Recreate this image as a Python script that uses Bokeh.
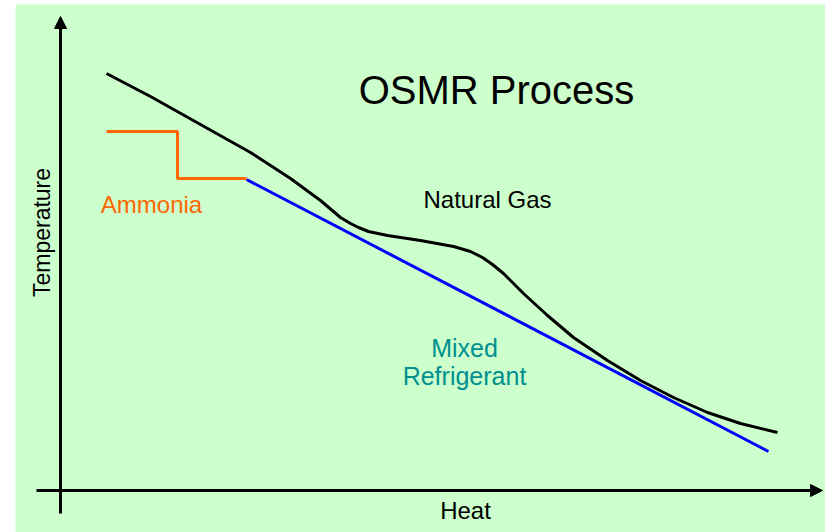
import math
from bokeh.plotting import figure
from bokeh.models import Range1d, Label, Arrow, NormalHead
from bokeh.embed import file_html
from bokeh.resources import INLINE

# Heat (x) and Temperature (y) in arbitrary units, origin at the axes crossing
gas_heat = [46, 90, 140, 190, 230, 260, 280, 290, 298, 308, 327, 360, 393, 410,
            422, 432, 443, 463, 487, 513, 547, 580, 613, 647, 680, 717]
gas_temp = [417, 394, 366, 338, 312, 290, 273, 267, 263, 259, 255, 250, 244, 239,
            233, 226, 217, 197, 175, 153, 130, 110, 93, 78, 67, 58]

mr_heat = [186, 708]
mr_temp = [311, 39]

nh3_heat = [46, 117, 117, 186]
nh3_temp = [359, 359, 312, 312]

FONT = "Liberation Sans"
BG = "#ccffcc"

p = figure(width=825, height=532, output_backend="svg", toolbar_location=None,
           x_range=Range1d(-45, 765), y_range=Range1d(-42, 486),
           min_border_left=15, min_border_right=0, min_border_top=4, min_border_bottom=0)
p.background_fill_color = BG
p.border_fill_color = "white"
p.outline_line_color = None
p.xaxis.visible = False
p.yaxis.visible = False
p.xgrid.visible = False
p.ygrid.visible = False

# axes drawn as arrows
p.add_layout(Arrow(end=NormalHead(size=12, fill_color="black", line_color="black"),
                   x_start=0, y_start=-23, x_end=0, y_end=474,
                   line_width=3, line_color="black"))
p.add_layout(Arrow(end=NormalHead(size=12, fill_color="black", line_color="black"),
                   x_start=-24, y_start=0, x_end=762, y_end=0,
                   line_width=3, line_color="black"))

p.line(gas_heat, gas_temp, line_color="black", line_width=3, line_join="round")
p.line(mr_heat, mr_temp, line_color="#0000ff", line_width=3)
p.line(nh3_heat, nh3_temp, line_color="#ff6600", line_width=3)

def lab(x, y, t, size, color="black", angle=0):
    p.add_layout(Label(x=x, y=y, text=t, text_font=FONT, text_font_size=f"{size}px",
                       text_color=color, text_align="center", text_baseline="alphabetic",
                       angle=angle))

lab(436, 401, "OSMR Process", 40)
lab(427, 291, "Natural Gas", 24)
lab(404, 143, "Mixed", 25, "#009090")
lab(404, 115, "Refrigerant", 25, "#009090")
lab(91, 286, "Ammonia", 24, "#ff6600")
lab(405, -20, "Heat", 24)
lab(-19, 258, "Temperature", 23, angle=math.pi / 2)

open("out.html", "w").write(file_html(p, INLINE))
